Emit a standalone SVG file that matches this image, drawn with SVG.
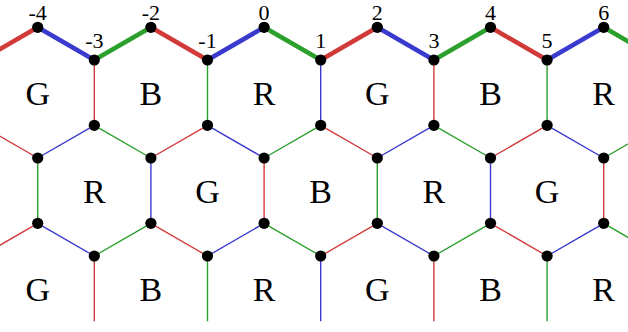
<svg xmlns="http://www.w3.org/2000/svg" width="628" height="332" viewBox="0 0 628 332">
<style>
.r{stroke:#d23a3a}.g{stroke:#2ca02c}.b{stroke:#3a3acf}
.thin line{stroke-width:1.4}
.thick line{stroke-width:4.6;stroke-linecap:round}
circle{fill:#000}
.num{font-family:"Liberation Serif",serif;font-size:22px;text-anchor:middle;fill:#000}
.hex{font-family:"Liberation Serif",serif;font-size:34px;text-anchor:middle;fill:#000}
</style>
<rect width="628" height="332" fill="#fff"/>
<g id="connectors">
<g class="thin">
<line class="r" x1="-18.9" y1="125.3" x2="37.7" y2="158"/>
<line class="b" x1="37.7" y1="158" x2="94.3" y2="125.3"/>
<line class="g" x1="94.3" y1="125.3" x2="150.9" y2="158"/>
<line class="r" x1="150.9" y1="158" x2="207.5" y2="125.3"/>
<line class="b" x1="207.5" y1="125.3" x2="264.1" y2="158"/>
<line class="g" x1="264.1" y1="158" x2="320.7" y2="125.3"/>
<line class="r" x1="320.7" y1="125.3" x2="377.3" y2="158"/>
<line class="b" x1="377.3" y1="158" x2="433.9" y2="125.3"/>
<line class="g" x1="433.9" y1="125.3" x2="490.5" y2="158"/>
<line class="r" x1="490.5" y1="158" x2="547.1" y2="125.3"/>
<line class="b" x1="547.1" y1="125.3" x2="603.7" y2="158"/>
<line class="g" x1="603.7" y1="158" x2="660.3" y2="125.3"/>
<line class="r" x1="-18.9" y1="256" x2="37.7" y2="223.3"/>
<line class="b" x1="37.7" y1="223.3" x2="94.3" y2="256"/>
<line class="g" x1="94.3" y1="256" x2="150.9" y2="223.3"/>
<line class="r" x1="150.9" y1="223.3" x2="207.5" y2="256"/>
<line class="b" x1="207.5" y1="256" x2="264.1" y2="223.3"/>
<line class="g" x1="264.1" y1="223.3" x2="320.7" y2="256"/>
<line class="r" x1="320.7" y1="256" x2="377.3" y2="223.3"/>
<line class="b" x1="377.3" y1="223.3" x2="433.9" y2="256"/>
<line class="g" x1="433.9" y1="256" x2="490.5" y2="223.3"/>
<line class="r" x1="490.5" y1="223.3" x2="547.1" y2="256"/>
<line class="b" x1="547.1" y1="256" x2="603.7" y2="223.3"/>
<line class="g" x1="603.7" y1="223.3" x2="660.3" y2="256"/>
<line class="r" x1="94.3" y1="60" x2="94.3" y2="125.3"/>
<line class="g" x1="207.5" y1="60" x2="207.5" y2="125.3"/>
<line class="b" x1="320.7" y1="60" x2="320.7" y2="125.3"/>
<line class="r" x1="433.9" y1="60" x2="433.9" y2="125.3"/>
<line class="g" x1="547.1" y1="60" x2="547.1" y2="125.3"/>
<line class="g" x1="37.7" y1="158" x2="37.7" y2="223.3"/>
<line class="b" x1="150.9" y1="158" x2="150.9" y2="223.3"/>
<line class="r" x1="264.1" y1="158" x2="264.1" y2="223.3"/>
<line class="g" x1="377.3" y1="158" x2="377.3" y2="223.3"/>
<line class="b" x1="490.5" y1="158" x2="490.5" y2="223.3"/>
<line class="r" x1="603.7" y1="158" x2="603.7" y2="223.3"/>
<line class="r" x1="94.3" y1="256" x2="94.3" y2="321.3"/>
<line class="g" x1="207.5" y1="256" x2="207.5" y2="321.3"/>
<line class="b" x1="320.7" y1="256" x2="320.7" y2="321.3"/>
<line class="r" x1="433.9" y1="256" x2="433.9" y2="321.3"/>
<line class="g" x1="547.1" y1="256" x2="547.1" y2="321.3"/>
</g>
<g class="thick">
<line class="r" x1="-18.9" y1="60" x2="37.7" y2="27.3"/>
<line class="b" x1="37.7" y1="27.3" x2="94.3" y2="60"/>
<line class="g" x1="94.3" y1="60" x2="150.9" y2="27.3"/>
<line class="r" x1="150.9" y1="27.3" x2="207.5" y2="60"/>
<line class="b" x1="207.5" y1="60" x2="264.1" y2="27.3"/>
<line class="g" x1="264.1" y1="27.3" x2="320.7" y2="60"/>
<line class="r" x1="320.7" y1="60" x2="377.3" y2="27.3"/>
<line class="b" x1="377.3" y1="27.3" x2="433.9" y2="60"/>
<line class="g" x1="433.9" y1="60" x2="490.5" y2="27.3"/>
<line class="r" x1="490.5" y1="27.3" x2="547.1" y2="60"/>
<line class="b" x1="547.1" y1="60" x2="603.7" y2="27.3"/>
<line class="g" x1="603.7" y1="27.3" x2="660.3" y2="60"/>
</g>
</g>
<g id="vertices">
<g id="v-4"><circle cx="37.7" cy="27.3" r="5.6"/><text class="num" x="37.7" y="20">-4</text></g>
<g id="v-3"><circle cx="94.3" cy="60" r="5.6"/><text class="num" x="94.3" y="48">-3</text></g>
<g id="v-2"><circle cx="150.9" cy="27.3" r="5.6"/><text class="num" x="150.9" y="20">-2</text></g>
<g id="v-1"><circle cx="207.5" cy="60" r="5.6"/><text class="num" x="207.5" y="48">-1</text></g>
<g id="v0"><circle cx="264.1" cy="27.3" r="5.6"/><text class="num" x="264.1" y="20">0</text></g>
<g id="v1"><circle cx="320.7" cy="60" r="5.6"/><text class="num" x="320.7" y="48">1</text></g>
<g id="v2"><circle cx="377.3" cy="27.3" r="5.6"/><text class="num" x="377.3" y="20">2</text></g>
<g id="v3"><circle cx="433.9" cy="60" r="5.6"/><text class="num" x="433.9" y="48">3</text></g>
<g id="v4"><circle cx="490.5" cy="27.3" r="5.6"/><text class="num" x="490.5" y="20">4</text></g>
<g id="v5"><circle cx="547.1" cy="60" r="5.6"/><text class="num" x="547.1" y="48">5</text></g>
<g id="v6"><circle cx="603.7" cy="27.3" r="5.6"/><text class="num" x="603.7" y="20">6</text></g>
<g id="rowC">
<circle cx="94.3" cy="125.3" r="5.6"/><circle cx="207.5" cy="125.3" r="5.6"/><circle cx="320.7" cy="125.3" r="5.6"/><circle cx="433.9" cy="125.3" r="5.6"/><circle cx="547.1" cy="125.3" r="5.6"/>
</g>
<g id="rowD">
<circle cx="37.7" cy="158" r="5.6"/><circle cx="150.9" cy="158" r="5.6"/><circle cx="264.1" cy="158" r="5.6"/><circle cx="377.3" cy="158" r="5.6"/><circle cx="490.5" cy="158" r="5.6"/><circle cx="603.7" cy="158" r="5.6"/>
</g>
<g id="rowE">
<circle cx="37.7" cy="223.3" r="5.6"/><circle cx="150.9" cy="223.3" r="5.6"/><circle cx="264.1" cy="223.3" r="5.6"/><circle cx="377.3" cy="223.3" r="5.6"/><circle cx="490.5" cy="223.3" r="5.6"/><circle cx="603.7" cy="223.3" r="5.6"/>
</g>
<g id="rowF">
<circle cx="94.3" cy="256" r="5.6"/><circle cx="207.5" cy="256" r="5.6"/><circle cx="320.7" cy="256" r="5.6"/><circle cx="433.9" cy="256" r="5.6"/><circle cx="547.1" cy="256" r="5.6"/>
</g>
</g>
<g id="hexagons">
<g id="h1"><text class="hex" x="37.7" y="105">G</text></g>
<g id="h2"><text class="hex" x="150.9" y="105">B</text></g>
<g id="h3"><text class="hex" x="264.1" y="105">R</text></g>
<g id="h4"><text class="hex" x="377.3" y="105">G</text></g>
<g id="h5"><text class="hex" x="490.5" y="105">B</text></g>
<g id="h6"><text class="hex" x="603.7" y="105">R</text></g>
<g id="h7"><text class="hex" x="94.3" y="203">R</text></g>
<g id="h8"><text class="hex" x="207.5" y="203">G</text></g>
<g id="h9"><text class="hex" x="320.7" y="203">B</text></g>
<g id="h10"><text class="hex" x="433.9" y="203">R</text></g>
<g id="h11"><text class="hex" x="547.1" y="203">G</text></g>
<g id="h12"><text class="hex" x="37.7" y="301">G</text></g>
<g id="h13"><text class="hex" x="150.9" y="301">B</text></g>
<g id="h14"><text class="hex" x="264.1" y="301">R</text></g>
<g id="h15"><text class="hex" x="377.3" y="301">G</text></g>
<g id="h16"><text class="hex" x="490.5" y="301">B</text></g>
<g id="h17"><text class="hex" x="603.7" y="301">R</text></g>
</g>
</svg>
